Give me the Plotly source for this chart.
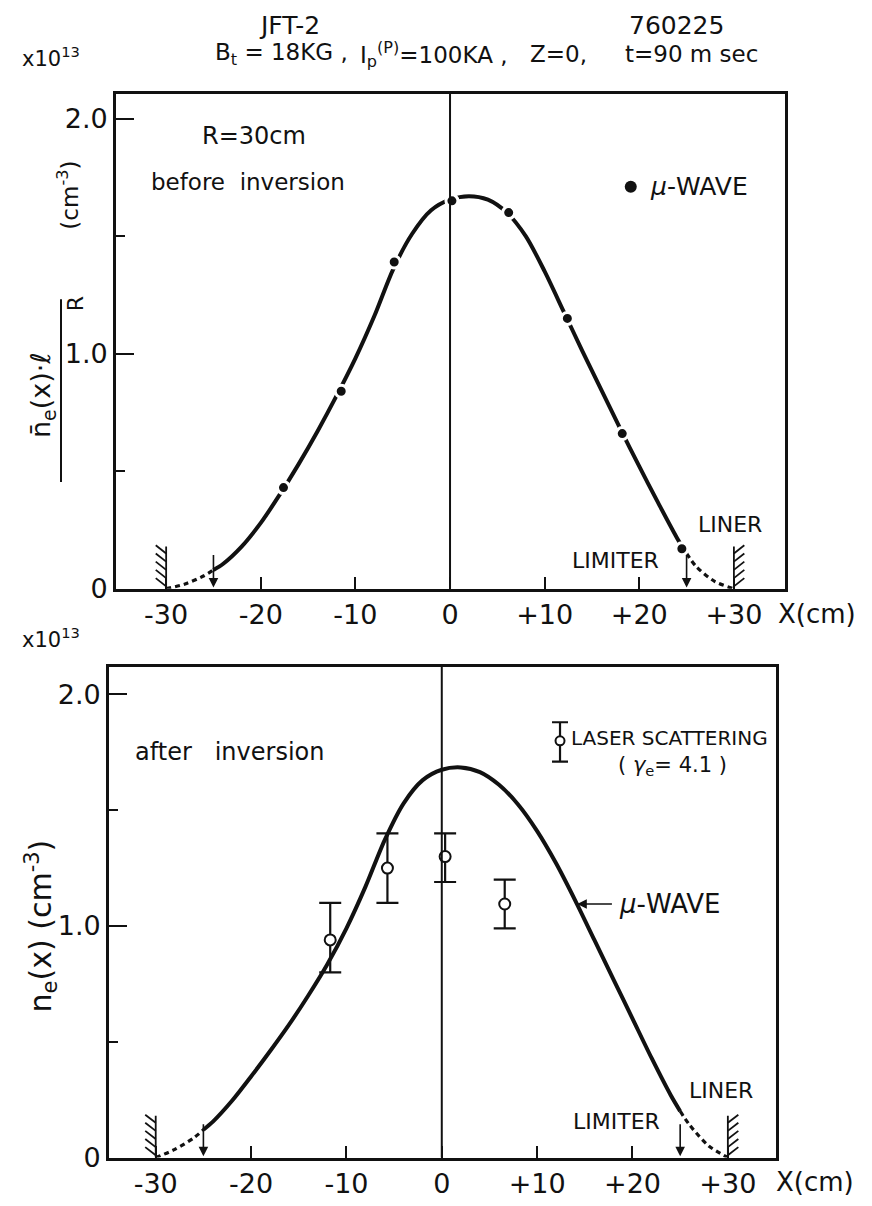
import plotly.graph_objects as go

W, H = 872, 1206

# ---------------- data ----------------
x_ticks = [-30, -20, -10, 0, 10, 20, 30]
x_tick_text = ["-30", "-20", "-10", "0", "+10", "+20", "+30"]
y_ticks = [0, 1, 2]
y_tick_text = ["0", "1.0", "2.0"]
y_minor = [0.5, 1.5]

# microwave (line-integrated) measurement, before inversion
mw_x = [-17.6, -11.5, -5.9, 0.2, 6.2, 12.4, 18.2, 24.5]
mw_y = [0.43, 0.84, 1.39, 1.65, 1.60, 1.15, 0.66, 0.17]

# smooth curves
curve_x = [-30, -28, -26, -25, -24, -22, -20, -18, -16, -14, -12, -10, -8, -6, -4, -2,
           0, 2, 4, 6, 8, 10, 12, 14, 16, 18, 20, 22, 24, 25, 26, 28, 30]
top_curve = [0.0, 0.02, 0.055, 0.08, 0.105, 0.18, 0.28, 0.40, 0.53, 0.67, 0.82, 0.98, 1.16,
             1.36, 1.51, 1.61, 1.655, 1.67, 1.655, 1.60, 1.50, 1.35, 1.18, 1.01, 0.845, 0.68,
             0.52, 0.365, 0.215, 0.15, 0.095, 0.03, 0.0]
bot_curve = [0.0, 0.035, 0.085, 0.12, 0.155, 0.245, 0.35, 0.46, 0.575, 0.70, 0.835, 0.99, 1.17,
             1.37, 1.53, 1.63, 1.675, 1.685, 1.665, 1.61, 1.525, 1.41, 1.27, 1.11, 0.94, 0.77,
             0.60, 0.43, 0.27, 0.20, 0.14, 0.05, 0.0]

# laser scattering, after inversion
ls_x = [-11.7, -5.7, 0.35, 6.6]
ls_y = [0.94, 1.25, 1.30, 1.095]
ls_hi = [1.10, 1.40, 1.40, 1.20]
ls_lo = [0.80, 1.10, 1.19, 0.99]

limiter_x = [-25, 25]
liner_x = [-30, 30]
# ---------------------------------------

FONT = "DejaVu Sans"
BLACK = "#111111"


def px_x(p):
    return p / W


def px_y(p):
    return 1 - p / H


fig = go.Figure()

top_box = dict(l=108, r=777, t=87, b=588)
bot_box = dict(l=101, r=768, t=667, b=1164)
top_xr = [-35.3, 35.4]
top_yr = [0, 2.105]
bot_xr = [-34.9, 35.05]
bot_yr = [0, 2.12]


def seg(xs, ys, lo, hi):
    xx, yy = [], []
    for a, b in zip(xs, ys):
        if lo <= a <= hi:
            xx.append(a)
            yy.append(b)
    return xx, yy


for ax_x, ax_y, curve in [("x", "y", top_curve), ("x2", "y2", bot_curve)]:
    lx, ly = seg(curve_x, curve, liner_x[0], limiter_x[0])
    mx, my = seg(curve_x, curve, limiter_x[0], limiter_x[1])
    rx, ry = seg(curve_x, curve, limiter_x[1], liner_x[1])
    for sx, sy, wdt, dash in [(lx, ly, 3.2, "5px,4px"), (mx, my, 4, "solid"), (rx, ry, 3.2, "5px,4px")]:
        fig.add_trace(go.Scatter(x=sx, y=sy, mode="lines", xaxis=ax_x, yaxis=ax_y,
                                 line=dict(color=BLACK, width=wdt, dash=dash,
                                           shape="spline", smoothing=0.8),
                                 showlegend=False, hoverinfo="skip"))

    # liner hatches
    for L, s in zip(liner_x, [-1, 1]):
        hx, hy = [L, L, None], [0, 0.18, None]
        for i in range(5):
            y0 = 0.01 + i * 0.035
            hx += [L, L + s * 1.1, None]
            hy += [y0, y0 + 0.035, None]
        fig.add_trace(go.Scatter(x=hx, y=hy, mode="lines", xaxis=ax_x, yaxis=ax_y,
                                 line=dict(color=BLACK, width=1.8),
                                 showlegend=False, hoverinfo="skip"))

# microwave points (top)
fig.add_trace(go.Scatter(x=mw_x, y=mw_y, mode="markers", xaxis="x", yaxis="y",
                         marker=dict(color=BLACK, size=12, line=dict(color="white", width=3)),
                         showlegend=False, hoverinfo="skip"))

# laser scattering points (bottom)
fig.add_trace(go.Scatter(x=ls_x, y=ls_y, mode="markers", xaxis="x2", yaxis="y2",
                         marker=dict(color="white", size=11, line=dict(color=BLACK, width=2)),
                         error_y=dict(type="data", symmetric=False,
                                      array=[h - v for h, v in zip(ls_hi, ls_y)],
                                      arrayminus=[v - l for l, v in zip(ls_lo, ls_y)],
                                      color=BLACK, thickness=2.2, width=11),
                         showlegend=False, hoverinfo="skip"))

# legend samples
fig.add_trace(go.Scatter(x=[19.1], y=[1.71], mode="markers", xaxis="x", yaxis="y",
                         marker=dict(color=BLACK, size=12), showlegend=False, hoverinfo="skip"))
fig.add_trace(go.Scatter(x=[12.4], y=[1.80], mode="markers", xaxis="x2", yaxis="y2",
                         marker=dict(color="white", size=9, line=dict(color=BLACK, width=2)),
                         error_y=dict(type="data", symmetric=False, array=[0.08], arrayminus=[0.09],
                                      color=BLACK, thickness=2.2, width=8),
                         showlegend=False, hoverinfo="skip"))

axis_common = dict(showgrid=False, zeroline=False, showline=True, linecolor=BLACK,
                   linewidth=2.8, mirror=True, ticks="inside", tickcolor=BLACK,
                   tickwidth=2, tickfont=dict(family=FONT, size=27, color=BLACK))

fig.update_layout(
    width=W, height=H, margin=dict(l=0, r=0, t=0, b=0),
    paper_bgcolor="white", plot_bgcolor="white",
    xaxis=dict(domain=[px_x(top_box["l"]), px_x(top_box["r"])], range=top_xr,
               tickvals=x_ticks, ticktext=x_tick_text, ticklen=12, anchor="y", **axis_common),
    yaxis=dict(domain=[px_y(top_box["b"]), px_y(top_box["t"])], range=top_yr,
               tickvals=y_ticks, ticktext=y_tick_text, ticklen=18, anchor="x",
               minor=dict(tickvals=y_minor, ticklen=9, ticks="inside", tickcolor=BLACK, tickwidth=2),
               **axis_common),
    xaxis2=dict(domain=[px_x(bot_box["l"]), px_x(bot_box["r"])], range=bot_xr,
                tickvals=x_ticks, ticktext=x_tick_text, ticklen=12, anchor="y2", **axis_common),
    yaxis2=dict(domain=[px_y(bot_box["b"]), px_y(bot_box["t"])], range=bot_yr,
                tickvals=y_ticks, ticktext=y_tick_text, ticklen=18, anchor="x2",
                minor=dict(tickvals=y_minor, ticklen=9, ticks="inside", tickcolor=BLACK, tickwidth=2),
                **axis_common),
)

for xr, yr in [("x", "y domain"), ("x2", "y2 domain")]:
    fig.add_shape(type="line", xref=xr, yref=yr, x0=0, x1=0, y0=0, y1=1,
                  line=dict(color=BLACK, width=2))

ann = []


def text(x, y, s, size=20, xref="paper", yref="paper", xanchor="center", yanchor="middle", angle=0):
    ann.append(dict(x=x, y=y, xref=xref, yref=yref, text=s, showarrow=False,
                    xanchor=xanchor, yanchor=yanchor, textangle=angle,
                    font=dict(family=FONT, size=size, color=BLACK)))


# header
text(px_x(281), px_y(18), "JFT-2", 25)
text(px_x(668), px_y(18), "760225", 25)
text(px_x(205), px_y(47), "B<sub>t</sub> = 18KG ,", 23, xanchor="left")
text(px_x(350), px_y(47), "I<sub>p</sub><sup>(P)</sup>=100KA ,", 23, xanchor="left")
text(px_x(520), px_y(47), "Z=0,", 23, xanchor="left")
text(px_x(615), px_y(47), "t=90 m sec", 23, xanchor="left")
text(px_x(43), px_y(50), "x10<sup>13</sup>", 21)
text(px_x(43), px_y(638), "x10<sup>13</sup>", 21)

# x axis unit labels
text(px_x(768), px_y(614), "X(cm)", 26, xanchor="left")
text(px_x(766), px_y(1189), "X(cm)", 26, xanchor="left")

# top panel texts
text(-20.7, 1.925, "R=30cm", 24, xref="x", yref="y")
text(-21.4, 1.73, "before  inversion", 23, xref="x", yref="y")
text(20.9, 1.71, "<i>μ</i>-WAVE", 25, xref="x", yref="y", xanchor="left")
text(29.6, 0.275, "LINER", 22, xref="x", yref="y")
text(17.5, 0.12, "LIMITER", 22, xref="x", yref="y")

# bottom panel texts
text(-32.4, 1.75, "after   inversion", 24, xref="x2", yref="y2", xanchor="left")
text(13.3, 1.81, "LASER SCATTERING", 20, xref="x2", yref="y2", xanchor="left")
text(24.2, 1.69, "( <i>γ</i><sub>e</sub>= 4.1 )", 21, xref="x2", yref="y2")
text(18.4, 1.095, "<i>μ</i>-WAVE", 26, xref="x2", yref="y2", xanchor="left")
text(29.3, 0.29, "LINER", 22, xref="x2", yref="y2")
text(18.3, 0.155, "LIMITER", 22, xref="x2", yref="y2")

# y titles
text(px_x(34), px_y(392), "n&#772;<sub>e</sub>(x)·ℓ", 27, angle=-90)
text(px_x(67), px_y(300), "R", 22, angle=-90)
text(px_x(60), px_y(190), "(cm<sup>-3</sup>)", 23, angle=-90)
text(px_x(33), px_y(930), "n<sub>e</sub>(x) (cm<sup>-3</sup>)", 30, angle=-90)

# limiter arrows
for xr, yr in [("x", "y"), ("x2", "y2")]:
    for L in limiter_x:
        ann.append(dict(x=L, y=0.005, ax=L, ay=0.15, xref=xr, yref=yr, axref=xr, ayref=yr,
                        text="", showarrow=True, arrowhead=2, arrowsize=1.2, arrowwidth=1.6,
                        arrowcolor=BLACK))
# mu-wave arrow bottom
ann.append(dict(x=14.2, y=1.095, ax=18.0, ay=1.095, xref="x2", yref="y2", axref="x2", ayref="y2",
                text="", showarrow=True, arrowhead=2, arrowsize=1.2, arrowwidth=1.6,
                arrowcolor=BLACK))

fig.update_layout(annotations=ann)
fig.add_shape(type="line", xref="paper", yref="paper", x0=px_x(53), x1=px_x(53),
              y0=px_y(295), y1=px_y(480), line=dict(color=BLACK, width=2))

fig.write_html("out.html")
